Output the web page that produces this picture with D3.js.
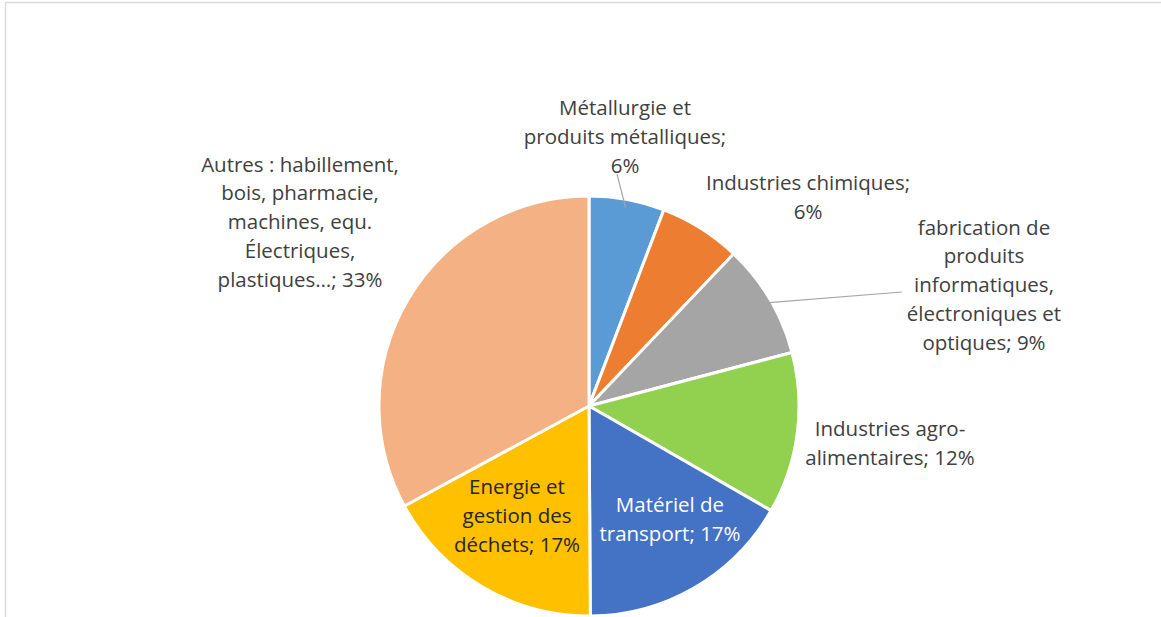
<!DOCTYPE html>
<html>
<head>
<meta charset="utf-8"/>
<script src="https://d3js.org/d3.v7.min.js"></script>
<style>
  body { margin:0; background:#fff; }
  svg { display:block; }
  text { font-family: "Open Sans", Lato, sans-serif; }
</style>
</head>
<body>
<script>
// data
var categories = ["Métallurgie et produits métalliques", "Industries chimiques",
  "fabrication de produits informatiques, électroniques et optiques",
  "Industries agro-alimentaires", "Matériel de transport",
  "Energie et gestion des déchets",
  "Autres : habillement, bois, pharmacie, machines, equ. Électriques, plastiques…"];
var values = [5.8, 6.3, 8.8, 12.4, 16.6, 17.2, 32.9];
var colors = ["#5b9bd5", "#ed7d31", "#a5a5a5", "#92d050", "#4472c4", "#ffc000", "#f4b183"];
// label line breaks, {v} is the rounded percentage
var labelLines = [
  ["Métallurgie et", "produits métalliques;", "{v}"],
  ["Industries chimiques;", "{v}"],
  ["fabrication de", "produits", "informatiques,", "électroniques et", "optiques; {v}"],
  ["Industries agro-", "alimentaires; {v}"],
  ["Matériel de", "transport; {v}"],
  ["Energie et", "gestion des", "déchets; {v}"],
  ["Autres : habillement,", "bois, pharmacie,", "machines, equ.", "Électriques,", "plastiques…; {v}"]
];

// layout
var W = 1161, H = 617;
var cx = 589, cy = 406, R = 210;
var lineH = 28.8;
// label block centre, relative to the pie centre (layout only)
var labelAt = [[36, -269], [219, -209], [395, -121], [301, 37], [81, 113], [-72, 110], [-289, -184]];
var leaders = [true, false, true, false, false, false, false];
var labelColor = ["#404040", "#404040", "#404040", "#404040", "#ffffff", "#262626", "#404040"];

var svg = d3.select("body").append("svg").attr("width", W).attr("height", H);

// chart frame
svg.append("rect")
  .attr("x", 5.5).attr("y", 2.5)
  .attr("width", W + 10).attr("height", H + 10)
  .attr("fill", "#fff").attr("stroke", "#d9d9d9").attr("stroke-width", 1.5);

var pie = d3.pie().sort(null).value(function(d){ return d; });
var arcs = pie(values);
var arc = d3.arc().innerRadius(0).outerRadius(R);

var g = svg.append("g").attr("transform", "translate(" + cx + "," + cy + ")");

g.selectAll("path.slice")
  .data(arcs)
  .enter().append("path")
  .attr("class", "slice")
  .attr("d", arc)
  .attr("fill", function(d, i){ return colors[i]; })
  .attr("stroke", "#fff")
  .attr("stroke-width", 3)
  .attr("stroke-linejoin", "round");

// leader lines
arcs.forEach(function(d, i) {
  if (!leaders[i]) return;
  var mid = (d.startAngle + d.endAngle) / 2;
  var p0 = [Math.sin(mid) * (R - 8), -Math.cos(mid) * (R - 8)];
  var n = labelLines[i].length;
  var p1;
  if (i === 0) {
    p1 = [labelAt[i][0] - 8, labelAt[i][1] + (n / 2) * lineH - 6];
  } else {
    p1 = [labelAt[i][0] - 82, labelAt[i][1] + 7];
  }
  g.append("line")
    .attr("x1", p0[0]).attr("y1", p0[1])
    .attr("x2", p1[0]).attr("y2", p1[1])
    .attr("stroke", "#a6a6a6").attr("stroke-width", 1.2);
});

// labels
arcs.forEach(function(d, i) {
  var lines = labelLines[i].map(function(s){ return s.replace("{v}", Math.round(values[i]) + "%"); });
  var n = lines.length;
  var t = g.append("text")
    .attr("text-anchor", "middle")
    .attr("fill", labelColor[i])
    .style("font-size", "20.5px");
  lines.forEach(function(s, k) {
    t.append("tspan")
      .attr("x", labelAt[i][0])
      .attr("y", labelAt[i][1] + (k - (n - 1) / 2) * lineH)
      .attr("dy", "0.35em")
      .text(s);
  });
});
</script>
</body>
</html>
